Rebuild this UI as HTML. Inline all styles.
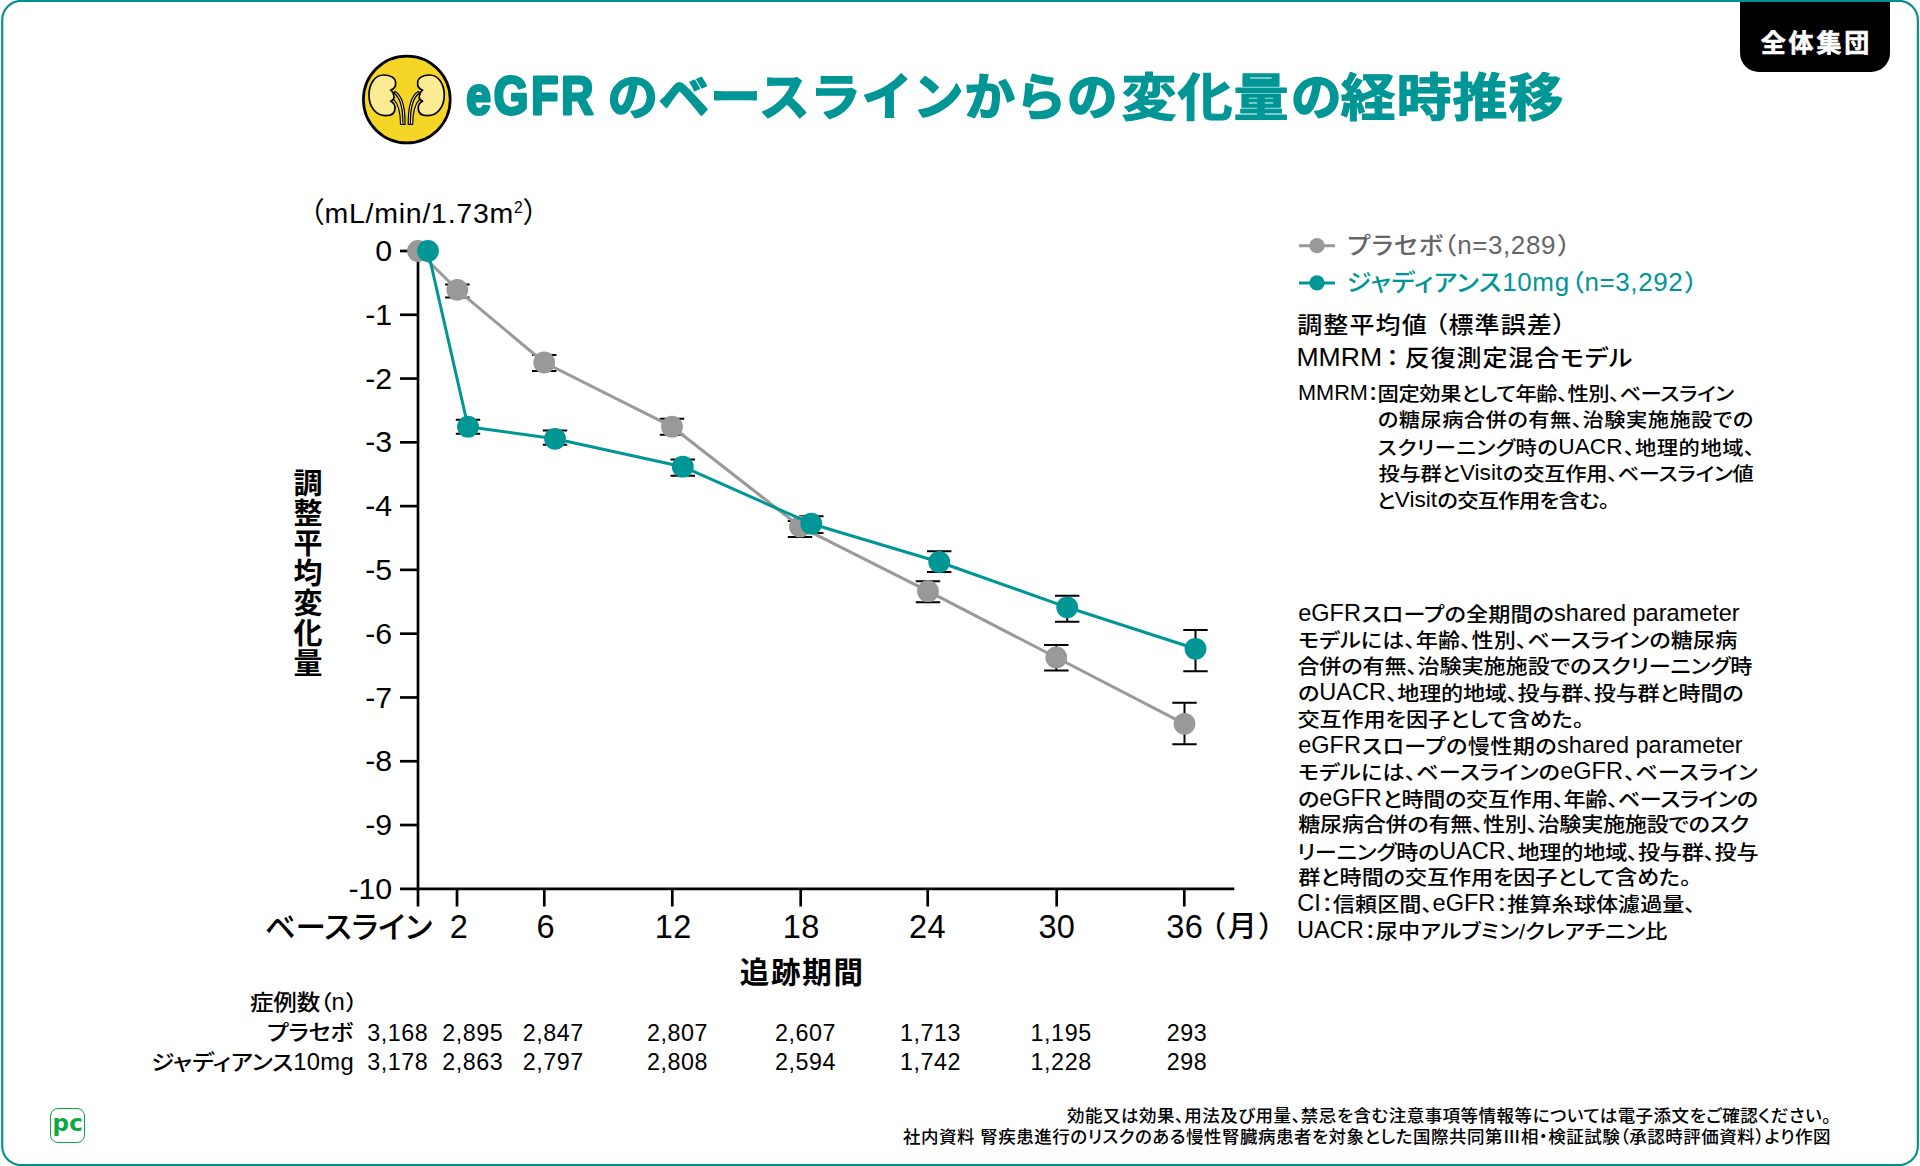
<!DOCTYPE html>
<html lang="ja">
<head>
<meta charset="utf-8">
<title>eGFRのベースラインからの変化量の経時推移</title>
<style>
html,body{margin:0;padding:0;background:#fff;}
body{width:1920px;height:1166px;position:relative;overflow:hidden;
  font-family:"Liberation Sans","Noto Sans CJK JP",sans-serif;color:#000;font-feature-settings:"palt";}
.abs{position:absolute;white-space:nowrap;}
#chart{position:absolute;left:0;top:0;width:1920px;height:1166px;}
#tab{position:absolute;left:1740px;top:1.9px;width:150px;height:70.1px;background:#000;
  border-radius:0 0 19px 19px;}
#tab span{position:absolute;left:0;width:150px;top:22.7px;text-align:center;color:#fff;
  font-weight:700;font-size:25px;line-height:36px;letter-spacing:2.9px;text-indent:2.9px;-webkit-text-stroke:0.6px #fff;}
.ylab{position:absolute;width:80px;left:312.2px;text-align:right;font-size:30.3px;line-height:34px;height:34px;}
.xlab{position:absolute;width:120px;text-align:center;font-size:32.5px;line-height:36px;top:908.9px;letter-spacing:0.3px;text-indent:0.3px;}
#unit{left:309.5px;top:194.8px;font-size:28.5px;line-height:36px;letter-spacing:0.75px;}
#ytitle{position:absolute;left:291px;top:469.3px;width:34px;font-size:29px;line-height:30px;font-weight:700;text-align:center;}
.xt{position:absolute;font-size:29.5px;line-height:40px;height:40px;font-weight:700;white-space:nowrap;}
.xb{position:absolute;font-weight:500;font-size:29px;line-height:36px;height:36px;white-space:nowrap;}
.tl{position:absolute;font-weight:500;font-size:23.5px;line-height:30px;height:30px;white-space:nowrap;}
.tl .l{font-weight:400;font-size:23.8px;letter-spacing:0.3px;display:inline-block;text-align-last:left;}
.lg{position:absolute;font-weight:500;font-size:25px;line-height:36px;height:36px;white-space:nowrap;}
.lg .l{font-weight:400;font-size:26px;letter-spacing:0.6px;display:inline-block;text-align-last:left;}
.hd{position:absolute;font-size:25px;line-height:34px;height:34px;white-space:nowrap;font-weight:500;}
.hd .l{font-size:26.6px;font-weight:400;letter-spacing:0;display:inline-block;text-align-last:left;}
.hd .sp{display:inline-block;width:5px;}
.hd .fw{font-feature-settings:"palt" 0;display:inline-block;width:21px;text-align:center;text-align-last:center;letter-spacing:0;text-indent:-2px;}
.small{position:absolute;left:1298px;font-weight:500;font-size:21.6px;line-height:26px;height:26px;letter-spacing:0;white-space:nowrap;}
.small .l{font-weight:400;font-size:1.065em;letter-spacing:0;display:inline-block;text-align:left;text-align-last:left;}
.nt{font-size:22.1px;}
.mmb{font-size:21.3px;}
#mmrm .l{font-size:21.7px;}
.small{transform:scaleY(0.9);transform-origin:0 50%;}
.small .l{transform:translateY(-0.82px) scaleY(1.1111);transform-origin:0 80.5%;}
.tl{transform:scaleY(0.9);transform-origin:0 50%;}
.tl .l{transform:translateY(-0.2px) scaleY(1.1111);transform-origin:0 77.5%;}
.hd{transform:scaleY(0.92);transform-origin:0 50%;}
.hd .l{transform:translateY(-0.17px) scaleY(1.087);transform-origin:0 77%;}
.lg{transform:scaleY(0.94);transform-origin:0 50%;}
.lg .l{transform:scaleY(1.0638);transform-origin:0 75%;}
.j{letter-spacing:-0.9px;text-align:justify;text-align-last:justify;text-justify:inter-character;}
.tbl{position:absolute;font-size:23.3px;line-height:30px;white-space:nowrap;letter-spacing:0.55px;}
.ft{position:absolute;font-weight:500;font-size:17.5px;line-height:20px;height:20px;white-space:nowrap;}
#logo{position:absolute;left:50px;top:1108px;width:33px;height:33px;border:1.3px solid #0aa83f;border-radius:8px;}
#logo span{position:absolute;left:1.4px;top:-0.6px;font-family:"DejaVu Sans","Liberation Sans",sans-serif;font-weight:700;font-size:23px;line-height:30px;color:#0aa83f;letter-spacing:0.4px;}
</style>
</head>
<body>
<svg id="chart" viewBox="0 0 1920 1166" width="1920" height="1166">
  <!-- frame -->
  <rect x="2.2" y="0.85" width="1915.65" height="1164.3" rx="19" ry="19" fill="none" stroke="#009090" stroke-width="2.1"/>
  <g id="title" font-family="'Liberation Sans','Noto Sans CJK JP',sans-serif" font-weight="700" fill="#009696" stroke="#009696" stroke-width="1.7" stroke-linejoin="round" stroke-linecap="round" style="font-feature-settings:'palt' 0">
    <text transform="translate(466.3,114.3) scale(0.84,1)" font-size="53" letter-spacing="3.3" stroke-width="3">eGFR</text>
    <text x="607.5" y="114.6" font-size="50.5" letter-spacing="0.85">のベースラインからの</text>
    <text transform="translate(1121.5,115.6) scale(1.08,1)" font-size="51" letter-spacing="0.9" stroke-width="1.1">変化量</text>
    <text x="1291" y="114.6" font-size="50.5">の</text>
    <text transform="translate(1340.5,115.6) scale(1.08,1)" font-size="51" letter-spacing="0.9" stroke-width="1.1">経時推移</text>
  </g>
  <g stroke="#000" stroke-width="2.7" fill="none" stroke-linecap="butt">
  <line x1="418.0" y1="251.0" x2="418.0" y2="906.5"/>
  <line x1="400" y1="888.8" x2="1234.3" y2="888.8"/>
  <line x1="400" y1="251.00" x2="418.0" y2="251.00"/>
  <line x1="400" y1="314.78" x2="418.0" y2="314.78"/>
  <line x1="400" y1="378.56" x2="418.0" y2="378.56"/>
  <line x1="400" y1="442.34" x2="418.0" y2="442.34"/>
  <line x1="400" y1="506.12" x2="418.0" y2="506.12"/>
  <line x1="400" y1="569.90" x2="418.0" y2="569.90"/>
  <line x1="400" y1="633.68" x2="418.0" y2="633.68"/>
  <line x1="400" y1="697.46" x2="418.0" y2="697.46"/>
  <line x1="400" y1="761.24" x2="418.0" y2="761.24"/>
  <line x1="400" y1="825.02" x2="418.0" y2="825.02"/>
  <line x1="457" y1="888.8" x2="457" y2="906.5"/>
  <line x1="544.3" y1="888.8" x2="544.3" y2="906.5"/>
  <line x1="672.3" y1="888.8" x2="672.3" y2="906.5"/>
  <line x1="800.7" y1="888.8" x2="800.7" y2="906.5"/>
  <line x1="927.7" y1="888.8" x2="927.7" y2="906.5"/>
  <line x1="1056.7" y1="888.8" x2="1056.7" y2="906.5"/>
  <line x1="1184.3" y1="888.8" x2="1184.3" y2="906.5"/>
  </g>
  <g stroke="#000" stroke-width="2.0" fill="none">
  <path d="M445.1 284.4H469.5M445.1 297.6H469.5M457.3 284.4V297.6"/>
  <path d="M532.0 354.9H556.4M532.0 371H556.4M544.2 354.9V371"/>
  <path d="M659.8 418.7H684.2M659.8 434.7H684.2M672 418.7V434.7"/>
  <path d="M787.8 521H812.2M787.8 537H812.2M800 521V537"/>
  <path d="M915.8 581.2H940.2M915.8 602.2H940.2M928 581.2V602.2"/>
  <path d="M1044.1 645H1068.5M1044.1 670.5H1068.5M1056.3 645V670.5"/>
  <path d="M1172.3 702.8H1196.7M1172.3 744.2H1196.7M1184.5 702.8V744.2"/>
  <path d="M455.8 419.7H480.2M455.8 433.7H480.2M468 419.7V433.7"/>
  <path d="M542.8 430.5H567.2M542.8 444.7H567.2M555 430.5V444.7"/>
  <path d="M670.6 459.5H695.0M670.6 475.8H695.0M682.8 459.5V475.8"/>
  <path d="M799.1 516.3H823.5M799.1 533H823.5M811.3 516.3V533"/>
  <path d="M927.0 551.2H951.4M927.0 572H951.4M939.2 551.2V572"/>
  <path d="M1055.0 595.8H1079.4M1055.0 621.7H1079.4M1067.2 595.8V621.7"/>
  <path d="M1183.3 630.0H1207.7M1183.3 671.2H1207.7M1195.5 630.0V671.2"/>
  </g>
  <polyline points="418,251 457.3,289.8 544.2,362.5 672,426.7 800,526.6 928,591.2 1056.3,657.5 1184.5,723.8" fill="none" stroke="#999999" stroke-width="3" stroke-linejoin="round"/>
  <g fill="#999999">
  <circle cx="418" cy="251" r="10.9"/>
  <circle cx="457.3" cy="289.8" r="10.9"/>
  <circle cx="544.2" cy="362.5" r="10.9"/>
  <circle cx="672" cy="426.7" r="10.9"/>
  <circle cx="800" cy="526.6" r="10.9"/>
  <circle cx="928" cy="591.2" r="10.9"/>
  <circle cx="1056.3" cy="657.5" r="10.9"/>
  <circle cx="1184.5" cy="723.8" r="10.9"/>
  </g>
  <polyline points="428,251 468,426.7 555,438.8 682.8,466.7 811.3,523.7 939.2,562 1067.2,607.3 1195.5,648.8" fill="none" stroke="#009696" stroke-width="3" stroke-linejoin="round"/>
  <g fill="#009696">
  <circle cx="428" cy="251" r="10.9"/>
  <circle cx="468" cy="426.7" r="10.9"/>
  <circle cx="555" cy="438.8" r="10.9"/>
  <circle cx="682.8" cy="466.7" r="10.9"/>
  <circle cx="811.3" cy="523.7" r="10.9"/>
  <circle cx="939.2" cy="562" r="10.9"/>
  <circle cx="1067.2" cy="607.3" r="10.9"/>
  <circle cx="1195.5" cy="648.8" r="10.9"/>
  </g>
  <line x1="1299" y1="245.7" x2="1335" y2="245.7" stroke="#999999" stroke-width="3"/><circle cx="1317" cy="245.7" r="7.6" fill="#999999"/>
  <line x1="1299" y1="282.9" x2="1335" y2="282.9" stroke="#009696" stroke-width="3"/><circle cx="1317" cy="282.9" r="7.6" fill="#009696"/>
  <!-- ICON -->
  <g id="icon">
<circle cx="406.8" cy="99.5" r="43.4" fill="#F5D627" stroke="#000" stroke-width="2.7"/>
<g transform="translate(340,40) scale(0.125)" stroke="#000" stroke-width="13.5" stroke-linejoin="round" stroke-linecap="butt" fill="#FBEC93">
<g id="kl">
<path d="M430 425 C470 450 505 520 503 675 L520 675 C522 520 490 440 440 412 Z" stroke-width="10"/>
<path d="M425 468 C455 500 485 560 484 675 L503 675" fill="#FBEC93" stroke-width="9"/>
<path d="M405 400 C440 390 447 365 445 340 C443 300 400 280 350 280 C280 280 232 350 232 440 C232 540 290 605 365 605 C415 605 440 585 440 545 C440 515 425 498 405 490 C425 482 436 468 431 447 C427 425 417 408 405 400 Z"/>
</g>
<use href="#kl" transform="translate(1066,0) scale(-1,1)"/>
</g>
</g>

</svg>

<div id="tab"><span>全体集団</span></div>

<div class="ylab" style="top:234.0px">0</div>
<div class="ylab" style="top:297.8px">-1</div>
<div class="ylab" style="top:361.6px">-2</div>
<div class="ylab" style="top:425.3px">-3</div>
<div class="ylab" style="top:489.1px">-4</div>
<div class="ylab" style="top:552.9px">-5</div>
<div class="ylab" style="top:616.7px">-6</div>
<div class="ylab" style="top:680.5px">-7</div>
<div class="ylab" style="top:744.2px">-8</div>
<div class="ylab" style="top:808.0px">-9</div>
<div class="ylab" style="top:871.8px">-10</div>
<div class="xlab" style="left:398.7px">2</div>
<div class="xlab" style="left:485.5px">6</div>
<div class="xlab" style="left:613.0px">12</div>
<div class="xlab" style="left:741.0px">18</div>
<div class="xlab" style="left:867.3px">24</div>
<div class="xlab" style="left:996.7px">30</div>
<div class="xlab" style="left:1124.5px">36</div>
<div class="xb j" id="xbase" style="left:264.64px;top:909.30px;width:166.70px;font-size:30.5px">ベースライン</div>
<div class="xb j" id="xmon" style="left:1210.74px;top:908.80px;width:61.92px;">（月）</div>
<div class="abs" id="unit">（mL/min/1.73m<sup style="font-size:0.55em;vertical-align:baseline;position:relative;top:-0.62em;line-height:0">2</sup>）</div>
<div id="ytitle">調<br>整<br>平<br>均<br>変<br>化<br>量</div>
<div class="xt j" id="xtitle" style="left:739.64px;top:953.40px;width:122.50px;">追跡期間</div>
<div class="lg j" id="leg1" style="left:1347.60px;top:228.10px;width:221.86px;color:#666">プラセボ（<span class="l">n=3,289</span>）</div>
<div class="lg j" id="leg2" style="left:1346.70px;top:265.10px;width:349.80px;color:#009696">ジャディアンス<span class="l">10mg</span>（<span class="l">n=3,292</span>）</div>
<div class="hd j" id="h1" style="left:1297.28px;top:308.30px;width:267.22px;">調整平均値<span class="sp"></span>（標準誤差）</div>
<div class="hd j" id="h2" style="left:1296.38px;top:341.30px;width:335.12px;"><span class="l">MMRM</span><span class="fw">：</span>反復測定混合モデル</div>
<div class="small mmb" id="mmrm" style="left:1298.00px;top:381.50px;"><span class="l">MMRM</span>：</div>
<div class="small mmb j" id="mm0" style="left:1377.50px;top:381.50px;width:355.84px;">固定効果として年齢、性別、ベースライン</div>
<div class="small mmb j" id="mm1" style="left:1377.86px;top:408.00px;width:374.64px;">の糖尿病合併の有無、治験実施施設での</div>
<div class="small mmb j" id="mm2" style="left:1377.68px;top:434.50px;width:376.02px;">スクリーニング時の<span class="l">UACR</span>、地理的地域、</div>
<div class="small mmb j" id="mm3" style="left:1378.40px;top:461.00px;width:374.60px;">投与群と<span class="l">Visit</span>の交互作用、ベースライン値</div>
<div class="small mmb j" id="mm4" style="left:1376.60px;top:487.50px;width:231.86px;">と<span class="l">Visit</span>の交互作用を含む。</div>
<div class="small nt j" id="n0" style="left:1298.18px;top:602.20px;width:441.56px;"><span class="l">eGFR</span>スロープの全期間の<span class="l">shared parameter</span></div>
<div class="small nt j" id="n1" style="left:1298.00px;top:628.58px;width:438.50px;">モデルには、年齢、性別、ベースラインの糖尿病</div>
<div class="small nt j" id="n2" style="left:1297.28px;top:654.96px;width:454.22px;">合併の有無、治験実施施設でのスクリーニング時</div>
<div class="small nt j" id="n3" style="left:1298.18px;top:681.34px;width:444.56px;">の<span class="l">UACR</span>、地理的地域、投与群、投与群と時間の</div>
<div class="small nt j" id="n4" style="left:1297.46px;top:707.72px;width:285.34px;">交互作用を因子として含めた。</div>
<div class="small nt j" id="n5" style="left:1298.18px;top:734.10px;width:444.56px;"><span class="l">eGFR</span>スロープの慢性期の<span class="l">shared parameter</span></div>
<div class="small nt j" id="n6" style="left:1298.00px;top:760.48px;width:458.84px;">モデルには、ベースラインの<span class="l">eGFR</span>、ベースライン</div>
<div class="small nt j" id="n7" style="left:1298.18px;top:786.86px;width:459.14px;">の<span class="l">eGFR</span>と時間の交互作用、年齢、ベースラインの</div>
<div class="small nt j" id="n8" style="left:1298.18px;top:813.24px;width:450.14px;">糖尿病合併の有無、性別、治験実施施設でのスク</div>
<div class="small nt j" id="n9" style="left:1297.10px;top:839.62px;width:460.64px;">リーニング時の<span class="l">UACR</span>、地理的地域、投与群、投与</div>
<div class="small nt j" id="n10" style="left:1298.18px;top:866.00px;width:391.94px;">群と時間の交互作用を因子として含めた。</div>
<div class="small nt j" id="n11" style="left:1297.28px;top:892.38px;width:397.42px;"><span class="l">CI</span>：信頼区間、<span class="l">eGFR</span>：推算糸球体濾過量、</div>
<div class="small nt j" id="n12" style="left:1297.10px;top:918.76px;width:369.40px;"><span class="l">UACR</span>：尿中アルブミン/クレアチニン比</div>
<div class="tl j" id="t0" style="left:250.00px;top:988.00px;width:106.76px;">症例数（<span class="l">n</span>）</div>
<div class="tl j" id="t1" style="left:267.18px;top:1018.10px;width:85.08px;">プラセボ</div>
<div class="tl j" id="t2" style="left:151.10px;top:1047.70px;width:202.94px;">ジャディアンス<span class="l">10mg</span></div>
<div class="tbl num" style="left:367.3px;top:1017.6px">3,168</div>
<div class="tbl num" style="left:367.3px;top:1046.6px">3,178</div>
<div class="tbl num" style="left:442.3px;top:1017.6px">2,895</div>
<div class="tbl num" style="left:442.3px;top:1046.6px">2,863</div>
<div class="tbl num" style="left:522.7px;top:1017.6px">2,847</div>
<div class="tbl num" style="left:522.7px;top:1046.6px">2,797</div>
<div class="tbl num" style="left:646.9px;top:1017.6px">2,807</div>
<div class="tbl num" style="left:646.9px;top:1046.6px">2,808</div>
<div class="tbl num" style="left:774.9px;top:1017.6px">2,607</div>
<div class="tbl num" style="left:774.9px;top:1046.6px">2,594</div>
<div class="tbl num" style="left:900.0px;top:1017.6px">1,713</div>
<div class="tbl num" style="left:900.0px;top:1046.6px">1,742</div>
<div class="tbl num" style="left:1030.6px;top:1017.6px">1,195</div>
<div class="tbl num" style="left:1030.6px;top:1046.6px">1,228</div>
<div class="tbl num" style="left:1166.7px;top:1017.6px">293</div>
<div class="tbl num" style="left:1166.7px;top:1046.6px">298</div>
<div class="ft j" id="f1" style="left:1067.00px;top:1106.00px;width:762.90px;">効能又は効果、用法及び用量、禁忌を含む注意事項等情報等については電子添文をご確認ください。</div>
<div class="ft j" id="f2" style="left:903.00px;top:1126.10px;width:926.65px;">社内資料 腎疾患進行のリスクのある慢性腎臓病患者を対象とした国際共同第<span style="font-family:'Noto Sans CJK JP',sans-serif">Ⅲ</span>相・検証試験（承認時評価資料）より作図</div>

<div id="logo"><span>pc</span></div>
</body>
</html>
